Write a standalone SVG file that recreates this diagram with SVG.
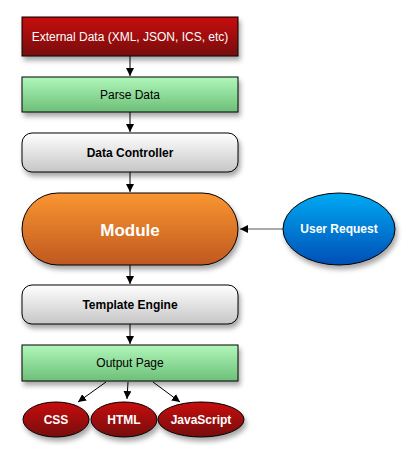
<svg xmlns="http://www.w3.org/2000/svg" width="416" height="462" viewBox="0 0 416 462">
<defs>
<linearGradient id="gRed" x1="0" y1="0" x2="0" y2="1"><stop offset="0" stop-color="#c80c0c"/><stop offset="1" stop-color="#761010"/></linearGradient>
<linearGradient id="gGreen" x1="0" y1="0" x2="0" y2="1"><stop offset="0" stop-color="#b0f7ba"/><stop offset="1" stop-color="#6dbf78"/></linearGradient>
<linearGradient id="gGray" x1="0" y1="0" x2="0" y2="1"><stop offset="0" stop-color="#ffffff"/><stop offset="1" stop-color="#c6c6c6"/></linearGradient>
<linearGradient id="gOrange" x1="0" y1="0" x2="0" y2="1"><stop offset="0" stop-color="#fa9631"/><stop offset="1" stop-color="#bf5820"/></linearGradient>
<linearGradient id="gBlue" x1="0" y1="0" x2="0" y2="1"><stop offset="0" stop-color="#00aaf2"/><stop offset="1" stop-color="#004fb6"/></linearGradient>
<filter id="sh" x="-20%" y="-20%" width="140%" height="160%"><feDropShadow dx="2" dy="4" stdDeviation="2.5" flood-color="#000" flood-opacity="0.35"/></filter>
<marker id="arr" viewBox="0 0 10 10" refX="10" refY="5" markerWidth="8" markerHeight="8" markerUnits="userSpaceOnUse" orient="auto"><path d="M0,0 L10,5 L0,10 z" fill="#000"/></marker>
<style>
.n{stroke:#000;stroke-width:1;filter:url(#sh)}
.t{font-family:"Liberation Sans",Arial,sans-serif;text-anchor:middle;dominant-baseline:central}
.w{fill:#fff}
.b{font-weight:bold}
.c{stroke:#000;stroke-width:1;fill:none;marker-end:url(#arr)}
</style>
</defs>
<g id="connectors">
<line class="c" x1="130" y1="56" x2="130" y2="76"/>
<line class="c" x1="130" y1="112" x2="130" y2="132"/>
<line class="c" x1="130" y1="172" x2="130" y2="192"/>
<line class="c" x1="130" y1="265" x2="130" y2="284"/>
<line class="c" x1="130" y1="324" x2="130" y2="344"/>
<line class="c" x1="283" y1="229" x2="240" y2="229" style="stroke:#555"/>
<line class="c" x1="106" y1="382" x2="78" y2="402"/>
<line class="c" x1="128" y1="382" x2="127" y2="399"/>
<line class="c" x1="153" y1="382" x2="180" y2="402"/>
</g>
<g id="external-data"><rect class="n" x="22" y="17" width="216" height="39" fill="url(#gRed)"/><text class="t w" x="130" y="37" font-size="12">External Data (XML, JSON, ICS, etc)</text></g>
<g id="parse-data"><rect class="n" x="22" y="77" width="216" height="35" fill="url(#gGreen)"/><text class="t" x="130" y="95" font-size="12">Parse Data</text></g>
<g id="data-controller"><rect class="n" x="22" y="133" width="216" height="39" rx="10" fill="url(#gGray)"/><text class="t b" x="130" y="153" font-size="12">Data Controller</text></g>
<g id="module"><rect class="n" x="22" y="193" width="216" height="72" rx="36" fill="url(#gOrange)"/><text class="t w b" x="130" y="230" font-size="17">Module</text></g>
<g id="user-request"><ellipse class="n" cx="339" cy="229" rx="56" ry="36" fill="url(#gBlue)"/><text class="t w b" x="339" y="229" font-size="12">User Request</text></g>
<g id="template-engine"><rect class="n" x="22" y="285" width="216" height="39" rx="10" fill="url(#gGray)"/><text class="t b" x="130" y="305" font-size="12">Template Engine</text></g>
<g id="output-page"><rect class="n" x="22" y="345" width="216" height="36" fill="url(#gGreen)"/><text class="t" x="130" y="363" font-size="12">Output Page</text></g>
<g id="css"><ellipse class="n" cx="56" cy="419.5" rx="33" ry="17.5" fill="url(#gRed)"/><text class="t w b" x="56" y="420" font-size="12">CSS</text></g>
<g id="html"><ellipse class="n" cx="124" cy="419.5" rx="33" ry="17.5" fill="url(#gRed)"/><text class="t w b" x="124" y="420" font-size="12">HTML</text></g>
<g id="javascript"><ellipse class="n" cx="201" cy="419.5" rx="43" ry="17.5" fill="url(#gRed)"/><text class="t w b" x="201" y="420" font-size="12">JavaScript</text></g>
</svg>
